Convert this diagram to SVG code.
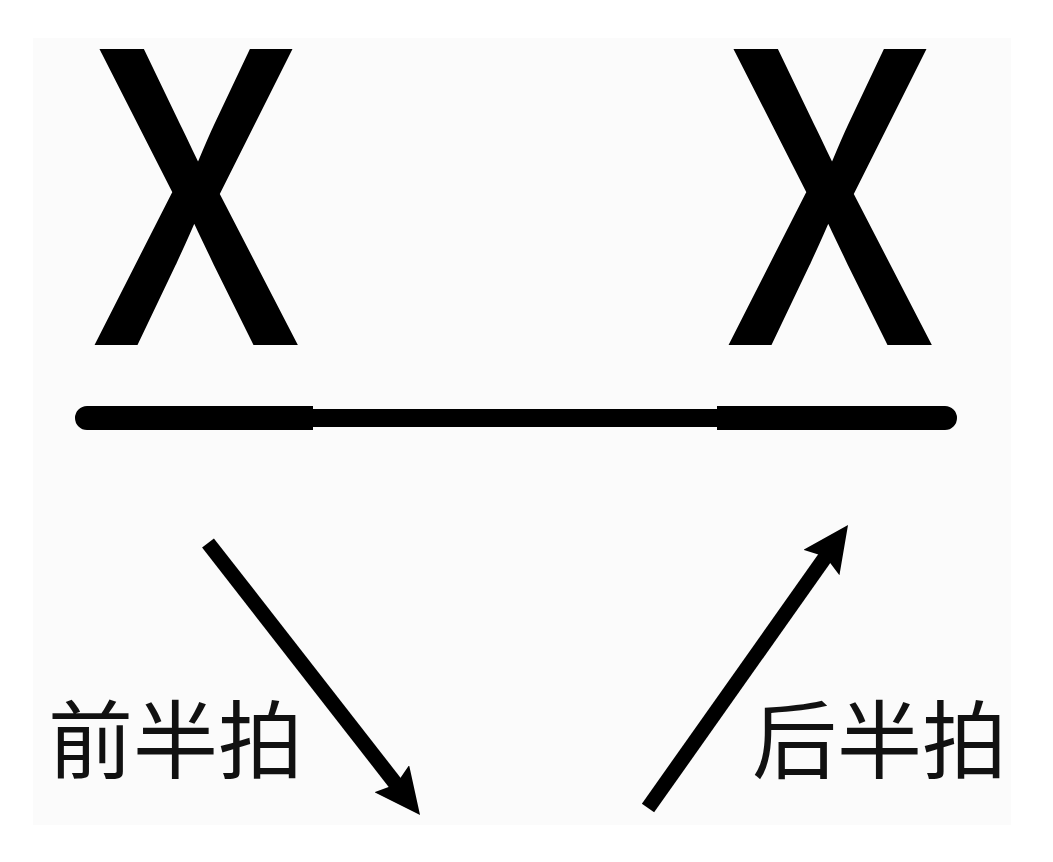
<svg xmlns="http://www.w3.org/2000/svg" width="1053" height="862" viewBox="0 0 1053 862">
  <style>
    .big { font-family: "Noto Sans CJK SC", "Liberation Sans", sans-serif; font-size: 393px; fill: #000; stroke: #000; stroke-width: 8; stroke-linejoin: miter; }
    .lbl { font-family: "Noto Sans CJK SC", sans-serif; font-size: 85px; fill: #111; }
    .arrow { stroke: #000; stroke-width: 15; fill: none; stroke-linecap: butt; }
  </style>
  <defs>
    <marker id="head" markerUnits="userSpaceOnUse" viewBox="0 0 46 44" markerWidth="46" markerHeight="44" refX="16" refY="22" orient="auto">
      <path d="M0,0 L46,22 L0,44 L7,22 Z" fill="#000"/>
    </marker>
  </defs>
  <rect x="0" y="0" width="1053" height="862" fill="#ffffff"/>
  <rect x="33" y="38" width="978" height="787" fill="#fbfbfb"/>
  <g id="x-left">
    <text class="big" transform="translate(196,341) scale(0.9,1)" x="0" y="0" text-anchor="middle">X</text>
  </g>
  <g id="x-right">
    <text class="big" transform="translate(830,341) scale(0.9,1)" x="0" y="0" text-anchor="middle">X</text>
  </g>
  <g id="beat-line">
    <path d="M87 406 H313 V409 H717 V406 H945 A12 12 0 0 1 945 430 H717 V427 H313 V430 H87 A12 12 0 0 1 87 406 Z" fill="#000"/>
  </g>
  <g id="label-first">
    <text class="lbl" x="48" y="772">前半拍</text>
  </g>
  <g id="label-second">
    <text class="lbl" x="752" y="772">后半拍</text>
  </g>
  <g id="connectors">
    <line class="arrow" x1="208" y1="543" x2="401.6" y2="791.3" marker-end="url(#head)"/>
    <line class="arrow" x1="648" y1="808" x2="830.7" y2="549.5" marker-end="url(#head)"/>
  </g>
</svg>
